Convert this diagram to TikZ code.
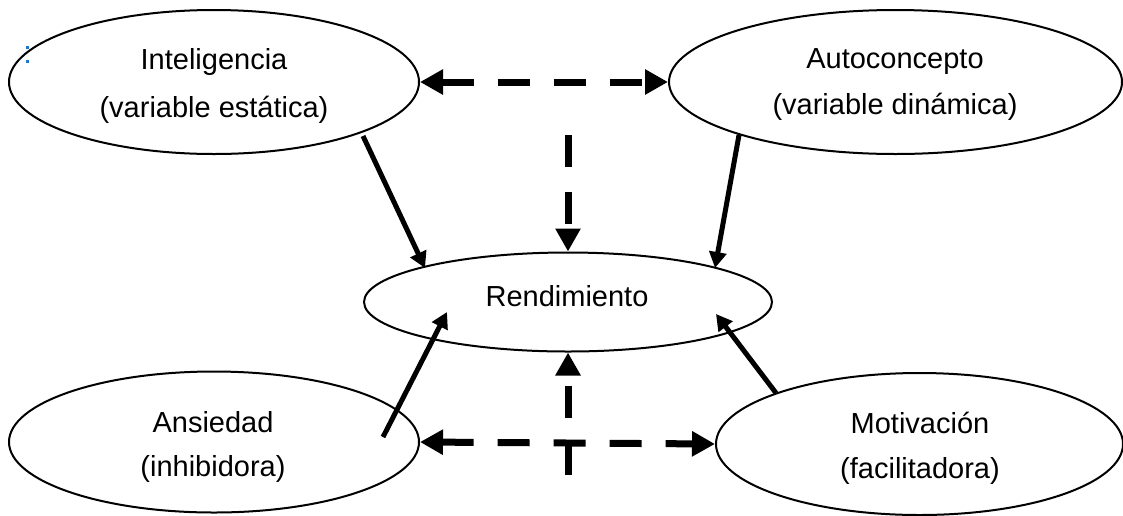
\documentclass[tikz,border=0pt]{standalone}
\usepackage{fontspec}
\setmainfont{Liberation Sans}
\usetikzlibrary{arrows.meta,shapes.geometric}
\definecolor{markblue}{RGB}{30,120,210}
\tikzset{
  oval/.style={ellipse,draw=black,line width=1pt,inner sep=0pt},
  lbl/.style={anchor=base,inner sep=0pt,font=\fontsize{14.5}{17}\selectfont},
  solidarrow/.style={line width=2.5pt,-{Triangle[length=8pt,width=8.5pt]}},
  dasharrow/.style={line width=3.5pt,dash pattern=on 16pt off 12.5pt,
     -{Triangle[length=11.5pt,width=12pt]}},
  dashboth/.style={line width=3.5pt,dash pattern=on 16pt off 12pt,
     {Triangle[length=11.5pt,width=12pt]}-{Triangle[length=11.5pt,width=12pt]}}
}
\begin{document}
\begin{tikzpicture}[x=0.5pt,y=-0.5pt]
\useasboundingbox (0,0) rectangle (1123,515);
% ellipses
\node[oval,minimum width=205pt,minimum height=72pt] (intel) at (214,82) {};
\node[oval,minimum width=226.5pt,minimum height=72pt] (auto) at (895.5,82) {};
\node[oval,minimum width=204pt,minimum height=49.5pt] (rend) at (568,302) {};
\node[oval,minimum width=205pt,minimum height=70.5pt] (ans) at (214,442) {};
\node[oval,minimum width=203.5pt,minimum height=71pt] (mot) at (919.5,444) {};
% texts
\node[lbl] (intelA) at (214,69) {Inteligencia};
\node[lbl] (intelB) at (214,117) {(variable estática)};
\node[lbl] (autoA) at (895,68) {Autoconcepto};
\node[lbl] (autoB) at (895,114) {(variable dinámica)};
\node[lbl] (rendA) at (567,306) {Rendimiento};
\node[lbl] (ansA) at (213,432) {Ansiedad};
\node[lbl] (ansB) at (213,476) {(inhibidora)};
\node[lbl] (motA) at (920,433) {Motivación};
\node[lbl] (motB) at (920,478) {(facilitadora)};
% blue marks
\fill[markblue] (25.5,45.5) rectangle (28.5,48.5);
\fill[markblue] (25.5,59.5) rectangle (28.5,62.5);
% coordinates
\coordinate (iS) at (363,136);
\coordinate (iT) at (425,268);
\coordinate (aS) at (739,135);
\coordinate (aT) at (715,268);
\coordinate (nS) at (383,437);
\coordinate (nT) at (447,312);
\coordinate (mS) at (776,393);
\coordinate (mT) at (716,314);
\coordinate (vTop) at (568,135);
\coordinate (vBot) at (568,475);
% dashed connectors
\draw[dashboth] (intel.east) -- (auto.west);
\draw[dashboth] (ans.east) -- (mot.west);
\draw[dasharrow] (vTop) -- (rend.north);
\draw[dasharrow] (vBot) -- (rend.south);
% solid connectors
\draw[solidarrow] (iS) -- (iT);
\draw[solidarrow] (aS) -- (aT);
\draw[solidarrow] (nS) -- (nT);
\draw[solidarrow] (mS) -- (mT);
\end{tikzpicture}
\end{document}
